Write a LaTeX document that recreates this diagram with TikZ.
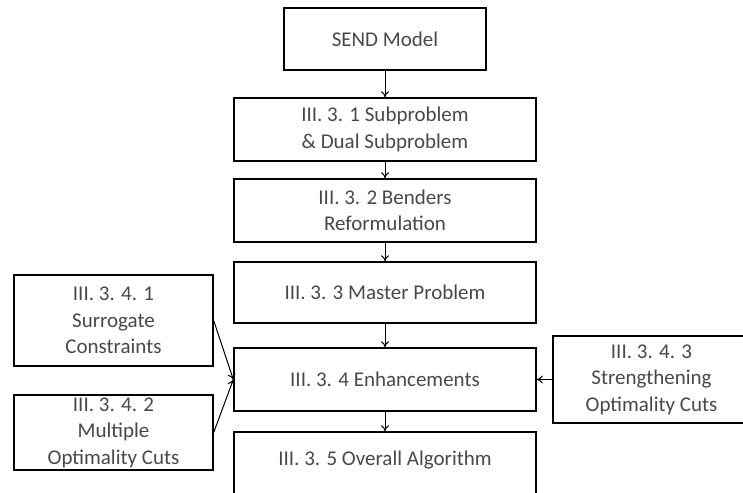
\documentclass[tikz,border=0pt]{standalone}
\usepackage{fontspec}
\setmainfont{Carlito}
\usepackage{tikz}
\usetikzlibrary{arrows.meta,positioning}
\definecolor{TextGray}{HTML}{484848}
\tikzset{
  caja/.style   = {draw, line width=1.4pt, align=center, text=TextGray,
                   font=\fontsize{21}{26.5}\selectfont, inner sep=2pt},
  fila/.style   = {caja, minimum width=302pt, minimum height=63pt},
  lateral/.style = {caja, minimum width=199pt},
  flecha/.style = {-{To[length=6pt,width=8pt]}, line width=1pt},
}
\begin{document}
\begin{tikzpicture}[x=1pt,y=-1pt]
  \useasboundingbox (0,0) rectangle (743,492);
  % main column
  \node[caja, minimum width=202pt, minimum height=62pt] (send) at (385,39) {SEND Model};
  \node[fila] (sub)    at (385,129.5) {III. 3. 1 Subproblem\\\& Dual Subproblem};
  \node[fila] (bend)   at (385,210.5) {III. 3. 2 Benders\\Reformulation};
  \node[fila, minimum height=61pt] (master) at (385,292.5) {III. 3. 3 Master Problem};
  \node[fila] (enh)    at (385,379.5) {III. 3. 4 Enhancements};
  \node[fila, minimum height=68pt, text depth=16pt] (overall) at (385,466) {III. 3. 5 Overall Algorithm};
  % side boxes
  \node[lateral, minimum height=91pt] (surr) at (113.5,320.5) {III. 3. 4. 1\\Surrogate\\Constraints};
  \node[lateral, minimum height=75pt] (mult) at (113.5,432.5) {III. 3. 4. 2\\Multiple\\Optimality Cuts};
  \node[caja, minimum width=197pt, minimum height=87pt] (stren) at (651.5,379.5) {III. 3. 4. 3\\Strengthening\\Optimality Cuts};
  % connectors
  \draw[flecha] (send) -- (sub);
  \draw[flecha] (sub) -- (bend);
  \draw[flecha] (bend) -- (master);
  \draw[flecha] (master) -- (enh);
  \draw[flecha] (enh) -- (overall);
  \draw[flecha] (surr.east) -- (enh.west);
  \draw[flecha] (mult.east) -- (enh.west);
  \draw[flecha] (stren.west) -- (enh.east);
\end{tikzpicture}
\end{document}
